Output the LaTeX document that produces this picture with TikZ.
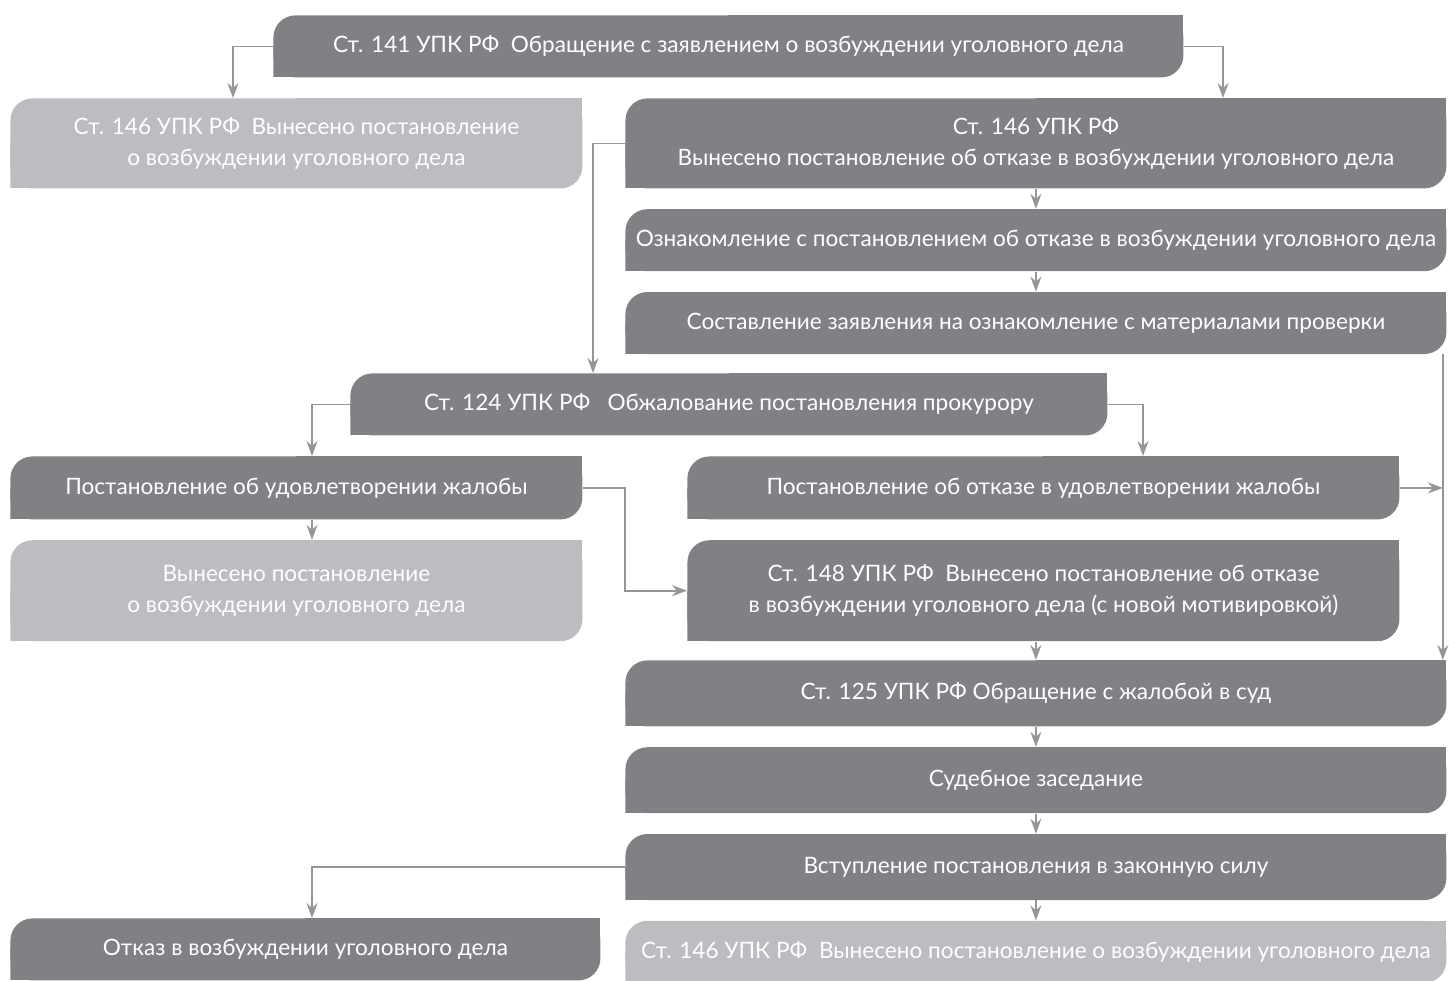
\documentclass[tikz,border=0pt]{standalone}
\usepackage{fontspec}
\setmainfont{Lato}
\usetikzlibrary{arrows.meta,positioning}

\definecolor{boxdark}{RGB}{128,129,133}
\definecolor{boxlight}{RGB}{188,189,192}
\definecolor{linegray}{RGB}{150,150,153}

\begin{document}
\begin{tikzpicture}[x=0.5pt,y=-0.5pt]

  % --- styles ---
  \tikzset{
    % box: rounded top left and bottom right corners
    stepbox/.style={
      anchor=north west,
      inner sep=0pt,
      text=white,
      font=\fontsize{11.3}{15.5}\selectfont,
      align=center,
      path picture={
        \fill[#1, rounded corners=11pt] (path picture bounding box.south west) rectangle (path picture bounding box.north east);
        \fill[#1] (path picture bounding box.north) rectangle (path picture bounding box.east);
        \fill[#1] (path picture bounding box.south west) rectangle (path picture bounding box.center);
      }
    },
    stepbox/.default=boxdark,
    % size in pixels of the sketch
    boxsize/.style 2 args={minimum width=#1*0.5pt, minimum height=#2*0.5pt},
    arr/.style={draw=linegray, line width=0.8pt, -{Stealth[length=7.5pt,width=5.5pt,inset=2.5pt]}}
  }

  \useasboundingbox (0,0) rectangle (1449,980);

  % --- top ---
  \node[stepbox, boxsize={910}{62}] (st141) at (273,15) {Ст. 141 УПК РФ~~Обращение с заявлением о возбуждении уголовного дела};

  % --- left column ---
  \node[stepbox=boxlight, boxsize={572}{90}] (st146a) at (10,98) {Ст. 146 УПК РФ~~Вынесено постановление\\о возбуждении уголовного дела};

  % --- right column ---
  \node[stepbox, boxsize={821}{90}] (st146b) at (625,98) {Ст. 146 УПК РФ\\Вынесено постановление об отказе в возбуждении уголовного дела};
  \node[stepbox, boxsize={821}{62}, below=10pt of st146b] (acquaint) {Ознакомление с постановлением об отказе в возбуждении уголовного дела};
  \node[stepbox, boxsize={821}{62}, below=10pt of acquaint] (request) {Составление заявления на ознакомление с материалами проверки};

  % --- appeal to prosecutor ---
  \node[stepbox, boxsize={757}{62}] (st124) at (350,373) {Ст. 124 УПК РФ~~~Обжалование постановления прокурору};

  \node[stepbox, boxsize={572}{63}] (granted) at (10,456) {Постановление об удовлетворении жалобы};
  \node[stepbox=boxlight, boxsize={572}{101}, below=10pt of granted] (opened) {Вынесено постановление\\о возбуждении уголовного дела};

  \node[stepbox, boxsize={712}{63}] (denied) at (687,456) {Постановление об отказе в удовлетворении жалобы};
  \node[stepbox, boxsize={712}{101}, below=10pt of denied] (st148) {Ст. 148 УПК РФ~~Вынесено постановление об отказе\\в возбуждении уголовного дела (с новой мотивировкой)};

  % --- court ---
  \node[stepbox, boxsize={821}{66}] (st125) at (625,660) {Ст. 125 УПК РФ Обращение с жалобой в суд};
  \node[stepbox, boxsize={821}{66}, below=10pt of st125] (hearing) {Судебное заседание};
  \node[stepbox, boxsize={821}{66}, below=10pt of hearing] (force) {Вступление постановления в законную силу};
  \node[stepbox=boxlight, boxsize={821}{62}, below=10pt of force] (st146c) {Ст. 146 УПК РФ~~Вынесено постановление о возбуждении уголовного дела};
  \node[stepbox, boxsize={590}{62}] (refusal) at (10,918) {Отказ в возбуждении уголовного дела};

  % --- arrows ---
  \draw[arr] (st141.west) -| ([xshift=111.5pt]st146a.north west);
  \draw[arr] (st141.east) -| ([xshift=299pt]st146b.north west);
  \draw[arr] (st146b.south) -- (acquaint.north);
  \draw[arr] (acquaint.south) -- (request.north);
  \draw[arr] (st146b.west) -| ([xshift=121.5pt]st124.north west);
  \draw[arr] ([xshift=-2pt]request.south east) -- ([xshift=-2pt]st125.north east);

  \draw[arr] (st124.west) -| ([xshift=151pt]granted.north west);
  \draw[arr] (st124.east) -| ([xshift=228pt]denied.north west);
  \draw[arr] ([xshift=151pt]granted.south west) -- ([xshift=151pt]opened.north west);
  \draw[arr] (granted.east) -- ++(21pt,0) |- (st148.west);
  \draw[arr] (denied.east) -- ([xshift=-2pt]denied.east -| st125.east);

  \draw[arr] (st148.south -| st125.north) -- (st125.north);
  \draw[arr] (st125.south) -- (hearing.north);
  \draw[arr] (hearing.south) -- (force.north);
  \draw[arr] (force.south) -- (st146c.north);
  \draw[arr] (force.west) -| ([xshift=151pt]refusal.north west);

\end{tikzpicture}
\end{document}
